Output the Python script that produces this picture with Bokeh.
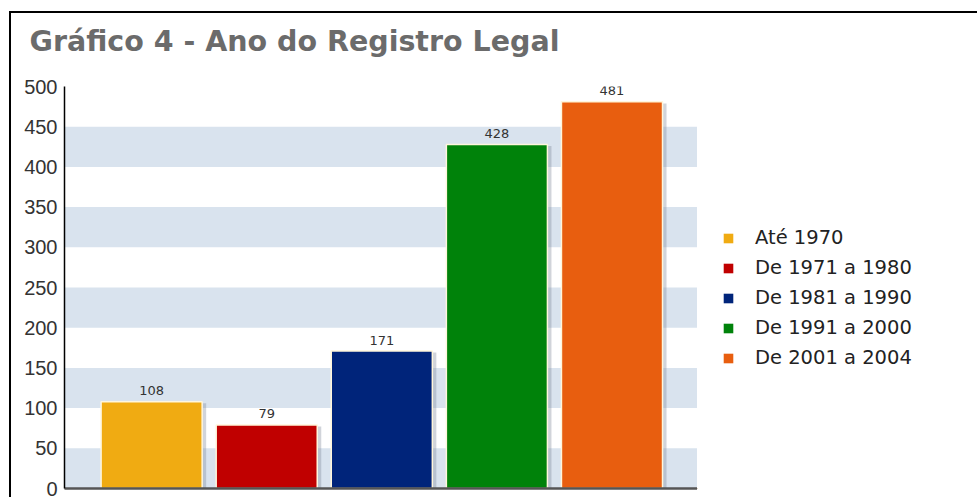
from bokeh.plotting import figure
from bokeh.layouts import row
from bokeh.models import ColumnDataSource, FixedTicker, BoxAnnotation, Legend, LegendItem, Range1d, Title
from bokeh.embed import file_html
from bokeh.resources import INLINE
from bokeh.core.properties import value

categories = ["Até 1970", "De 1971 a 1980", "De 1981 a 1990", "De 1991 a 2000", "De 2001 a 2004"]
counts = [108, 79, 171, 428, 481]
colors = ["#f0ab12", "#c00000", "#00247a", "#00820a", "#e85e0f"]
y_ticks = [0, 50, 100, 150, 200, 250, 300, 350, 400, 450, 500]
title_text = "Gráfico 4 - Ano do Registro Legal"

positions = list(range(1, len(categories) + 1))
src = ColumnDataSource(dict(x=positions, y=counts, c=colors, cat=categories,
                            lab=[str(v) for v in counts]))

FONT = "Liberation Sans"
WIDE = "DejaVu Sans"

p = figure(width=686, height=484, output_backend="svg", toolbar_location=None,
           x_range=Range1d(0.243, 5.743), y_range=Range1d(0, 500),
           min_border_left=53, min_border_right=0, min_border_bottom=9, min_border_top=73)
p.outline_line_color = None
p.grid.visible = False
p.background_fill_color = "white"
p.border_fill_color = "white"

# real title (outer) and a spacer title nearest the frame
p.title.text = title_text
p.title.text_font = WIDE
p.title.text_font_size = "28.5px"
p.title.text_font_style = "bold"
p.title.text_color = "#6b6b6b"
p.title.offset = -35
p.title.standoff = 2
spacer = Title(text=" ", text_font_size="1px", standoff=25)
p.add_layout(spacer, "above")

# bands
for b in y_ticks[0:-1:2]:
    p.add_layout(BoxAnnotation(bottom=b, top=b + 50, fill_color="#d9e3ee", fill_alpha=1.0,
                               line_alpha=0, level="underlay"))

# shadows
p.vbar(x=[x + 0.035 for x in positions], top=[v - 2 for v in counts], width=0.878,
       fill_color="#7a8594", fill_alpha=0.35, line_alpha=0)

p.vbar(x="x", top="y", width=0.878, source=src, fill_color="c",
       line_color="#fff6dc", line_width=1.5)

p.text(x="x", y="y", text="lab", source=src, text_align="center", text_baseline="alphabetic",
       y_offset=-11, text_font=value(WIDE), text_font_size="13px", text_color="#333333")

# axes
p.yaxis.ticker = FixedTicker(ticks=y_ticks)
p.yaxis.major_tick_line_color = None
p.yaxis.minor_tick_line_color = None
p.yaxis.axis_line_color = "#000000"
p.yaxis.axis_line_width = 1.5
p.yaxis.major_label_text_font = FONT
p.yaxis.major_label_text_font_size = "20px"
p.yaxis.major_label_text_color = "#333333"
p.yaxis.major_label_standoff = 1

p.xaxis.ticker = FixedTicker(ticks=[])
p.xaxis.major_tick_line_color = None
p.xaxis.minor_tick_line_color = None
p.xaxis.axis_line_color = "#555555"
p.xaxis.axis_line_width = 2.5
p.xaxis.major_label_text_font_size = "0px"

# legend panel (separate figure, its bars lie outside its visible ranges)
p2 = figure(width=280, height=484, output_backend="svg", toolbar_location=None,
            x_range=Range1d(100, 101), y_range=Range1d(1000, 2000),
            x_axis_location=None, y_axis_location=None,
            min_border_left=0, min_border_right=0, min_border_top=0, min_border_bottom=0)
p2.outline_line_color = None
p2.grid.visible = False
p2.background_fill_color = "white"
p2.border_fill_color = "white"
lbars = p2.vbar(x="x", top="y", width=0.878, source=src, fill_color="c", line_color=None)

items = [LegendItem(label=categories[i], renderers=[lbars], index=i) for i in range(len(categories))]
legend = Legend(items=items, location=(25, 119), border_line_color=None,
                background_fill_alpha=0, glyph_width=12, glyph_height=12,
                label_height=12, spacing=7, label_standoff=21,
                label_text_font=WIDE, label_text_font_size="19.5px", label_text_color="#222222",
                padding=0, margin=0)
p2.add_layout(legend)

layout = row(p, p2, spacing=0,
             styles={"border-top": "2px solid #000", "border-left": "2px solid #000",
                     "margin-top": "11px", "margin-left": "9px"})

open("out.html", "w").write(file_html(layout, INLINE))
